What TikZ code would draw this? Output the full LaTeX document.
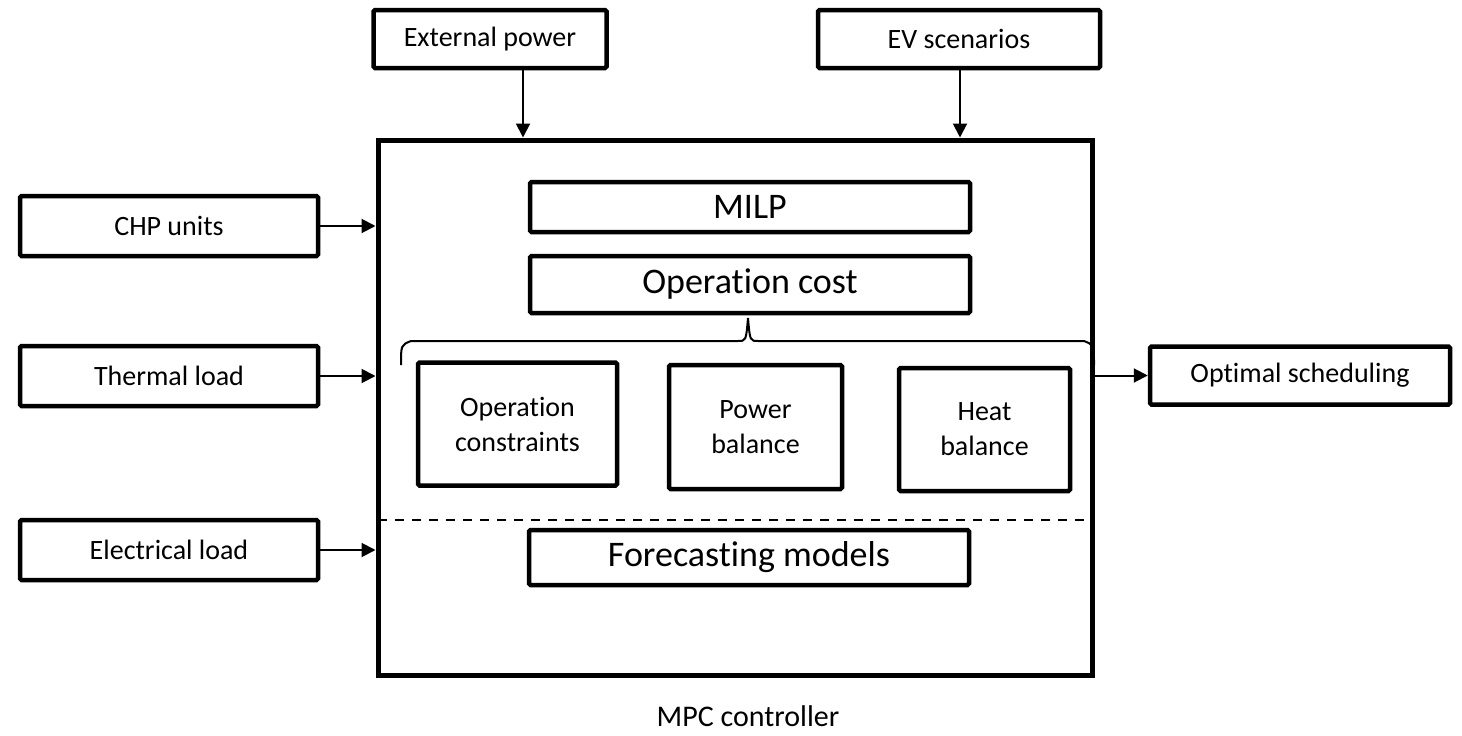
\documentclass[tikz,border=0pt]{standalone}
\usepackage{fontspec}
\setmainfont{Carlito}[Ligatures=NoCommon]
\usetikzlibrary{arrows.meta}
\begin{document}
\begin{tikzpicture}[x=1pt,y=-1pt,
  blk/.style={draw,line width=4.5pt,rounded corners=1.5pt,inner sep=0pt,align=center},
  small/.style={font=\fontsize{28}{35}\selectfont},
  big/.style={font=\fontsize{36}{42}\selectfont},
  arr/.style={line width=2pt,-{Triangle[length=14pt,width=14pt]}}]
\useasboundingbox (0,0) rectangle (1462,736);
% inputs
\node[blk,small,minimum width=233pt,minimum height=58pt] (ext) at (490,39) {External power};
\node[blk,small,minimum width=282pt,minimum height=58pt] (ev) at (959,39) {EV scenarios};
\node[blk,small,minimum width=298pt,minimum height=60pt] (chp) at (169,226) {CHP units};
\node[blk,small,minimum width=298pt,minimum height=60pt] (th) at (169,376) {Thermal load};
\node[blk,small,minimum width=298pt,minimum height=60pt] (el) at (169,550) {Electrical load};
% controller
\node[draw,line width=5pt,minimum width=714pt,minimum height=535pt,inner sep=0pt] (mpc) at (735,407.5) {};
\node[font=\fontsize{30}{36}\selectfont] (lab) at (748,716) {MPC controller};
% output
\node[blk,small,minimum width=300pt,minimum height=58pt] (opt) at (1300,375.5) {Optimal scheduling};
% inside the controller
\node[blk,big,minimum width=440pt,minimum height=50pt] (milp) at (750,207) {MILP};
\node[blk,big,minimum width=440pt,minimum height=57pt] (cost) at (750,284.5) {Operation cost};
\node[blk,small,minimum width=199pt,minimum height=123pt] (cons) at (517.5,424) {Operation\\constraints};
\node[blk,small,minimum width=173pt,minimum height=124pt] (pow) at (755.5,427) {Power\\balance};
\node[blk,small,minimum width=171pt,minimum height=123pt] (heat) at (984.5,429.5) {Heat\\balance};
\node[blk,big,minimum width=440pt,minimum height=55pt] (fc) at (749,557.5) {Forecasting models};
% brace under the cost block
\coordinate (bl) at (401,365);
\coordinate (br) at (1094,365);
\coordinate (bt) at (748,318);
\draw[line width=2pt] (bl) .. controls (401,345) .. (411,341) -- (738,341)
  .. controls (746,341) .. (bt) .. controls (750,341) .. (758,341) -- (1084,341)
  .. controls (1094,345) .. (br);
% separator between optimisation and forecasting
\coordinate (dl) at (378,520);
\coordinate (dr) at (1092,520);
\draw[line width=2.5pt,dash pattern=on 9pt off 8pt] (dl) -- (dr);
% connectors
\coordinate (ea) at (523,0);
\coordinate (va) at (960,0);
\draw[arr] (ext.south -| ea) -- (ea |- mpc.north);
\draw[arr] (ev.south -| va) -- (va |- mpc.north);
\draw[arr] (chp.east) -- (chp.east -| mpc.west);
\draw[arr] (th.east) -- (th.east -| mpc.west);
\draw[arr] (el.east) -- (el.east -| mpc.west);
\draw[arr] (mpc.east |- opt.west) -- (opt.west);
\end{tikzpicture}
\end{document}
